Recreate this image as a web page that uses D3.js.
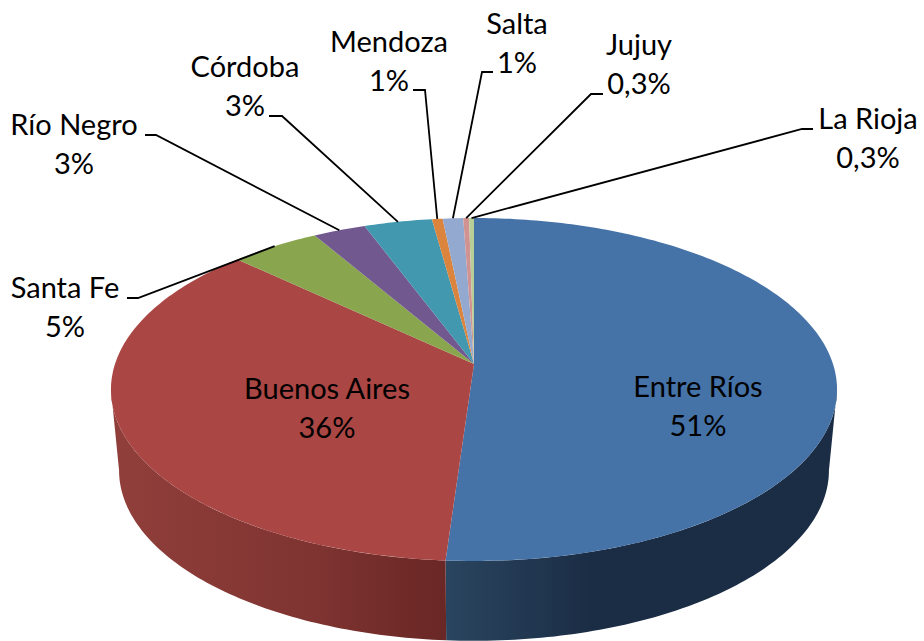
<!DOCTYPE html>
<html>
<head>
<meta charset="utf-8">
<script src="https://d3js.org/d3.v7.min.js"></script>
<style>
  html, body { margin: 0; padding: 0; background: #fff; overflow: hidden; }
  text { font-family: Lato, "Open Sans", sans-serif; font-size: 29px; fill: #000; }
</style>
</head>
<body>
<svg width="924" height="641"></svg>
<script>
var provinces = ["Entre Ríos", "Buenos Aires", "Santa Fe", "Río Negro", "Córdoba", "Mendoza", "Salta", "Jujuy", "La Rioja"];
var shares = [51.1, 36, 4.6, 2.7, 3.5, 0.55, 1.05, 0.3, 0.25];
var shareLabels = ["51%", "36%", "5%", "3%", "3%", "1%", "1%", "0,3%", "0,3%"];
var colors = ["#4572a7", "#aa4643", "#89a54e", "#71588f", "#4198af", "#db843d", "#93a9cf", "#d19392", "#b9cd96"];

// label centre (x, first line y) and leader elbow, null = label sits on the slice
var labelPos = [[698, 397], [327, 399], [65, 298], [74, 135], [245, 77], [389, 52], [517, 34], [639, 55], [868, 129]];
var elbows = [null, null, [[127, 298], [138, 298]], [[145, 135], [156, 135]], [[269, 116], [282, 116]], [[413, 90], [425, 90]], [[493, 72], [482, 72]], [[603, 94], [591, 94]], [[813, 129], [802, 129]]];

var svg = d3.select("svg");

// tilted disc: the back is squeezed, so the slices meet above the ellipse centre
var tilt = 0.1487;
function project(a, lid) {
  var x = Math.sin(a), y = Math.cos(a), w = 1 + tilt * y;
  return lid
    ? [474 + 359 * x / w, 364 - 167.7 * y / w]
    : [474 + 351 * x / w, 445 - 166.7 * y / w];
}

var pie = d3.pie().sort(null).value(function(d) { return d; });
var arcs = pie(shares);
var line = d3.line();

function rim(a0, a1, lid) {
  var n = Math.max(2, Math.ceil(Math.abs(a1 - a0) * 60)), pts = [];
  for (var i = 0; i <= n; i++) pts.push(project(a0 + (a1 - a0) * i / n, lid));
  return pts;
}

var defs = svg.append("defs");
function sideGradient(id, x1, x2, stops) {
  var g = defs.append("linearGradient").attr("id", id)
    .attr("gradientUnits", "userSpaceOnUse")
    .attr("x1", x1).attr("x2", x2).attr("y1", 0).attr("y2", 0);
  stops.forEach(function(s) {
    g.append("stop").attr("offset", s[0]).attr("stop-color", s[1]);
  });
}
sideGradient("sideBlue", 445, 640, [[0, "#2a4560"], [0.75, "#1b2d45"], [1, "#1b2d45"]]);
sideGradient("sideRed", 111, 445, [[0, "#913f3b"], [0.6, "#7f3431"], [1, "#692725"]]);

// front wall, only the first two slices show it
var edge = Math.PI / 2 + Math.asin(tilt);
var split = arcs[0].endAngle;
var walls = [[edge, split, "url(#sideBlue)"], [split, 2 * Math.PI - edge, "url(#sideRed)"]];
svg.append("g").selectAll("path")
  .data(walls)
  .enter().append("path")
  .attr("d", function(d) {
    return line(rim(d[0], d[1], true).concat(rim(d[1], d[0], false))) + "Z";
  })
  .attr("fill", function(d) { return d[2]; });

// lid
svg.append("g").selectAll("path")
  .data(arcs)
  .enter().append("path")
  .attr("d", function(d) {
    return line([[474, 364]].concat(rim(d.startAngle, d.endAngle, true))) + "Z";
  })
  .attr("fill", function(d, i) { return colors[i]; });

// leaders
svg.append("g").selectAll("path")
  .data(arcs.filter(function(d, i) { return elbows[i]; }))
  .enter().append("path")
  .attr("d", function(d) {
    var mid = (d.startAngle + d.endAngle) / 2;
    return line(elbows[d.index].concat([project(mid, true)]));
  })
  .attr("fill", "none")
  .attr("stroke", "#000")
  .attr("stroke-width", 1.8);

// labels
var labels = svg.append("g").selectAll("text")
  .data(provinces)
  .enter().append("text")
  .attr("text-anchor", "middle")
  .attr("x", function(d, i) { return labelPos[i][0]; })
  .attr("y", function(d, i) { return labelPos[i][1]; });
labels.append("tspan").text(function(d) { return d; });
labels.append("tspan")
  .attr("x", function(d, i) { return labelPos[i][0]; })
  .attr("dy", 39)
  .text(function(d, i) { return shareLabels[i]; });
</script>
</body>
</html>
